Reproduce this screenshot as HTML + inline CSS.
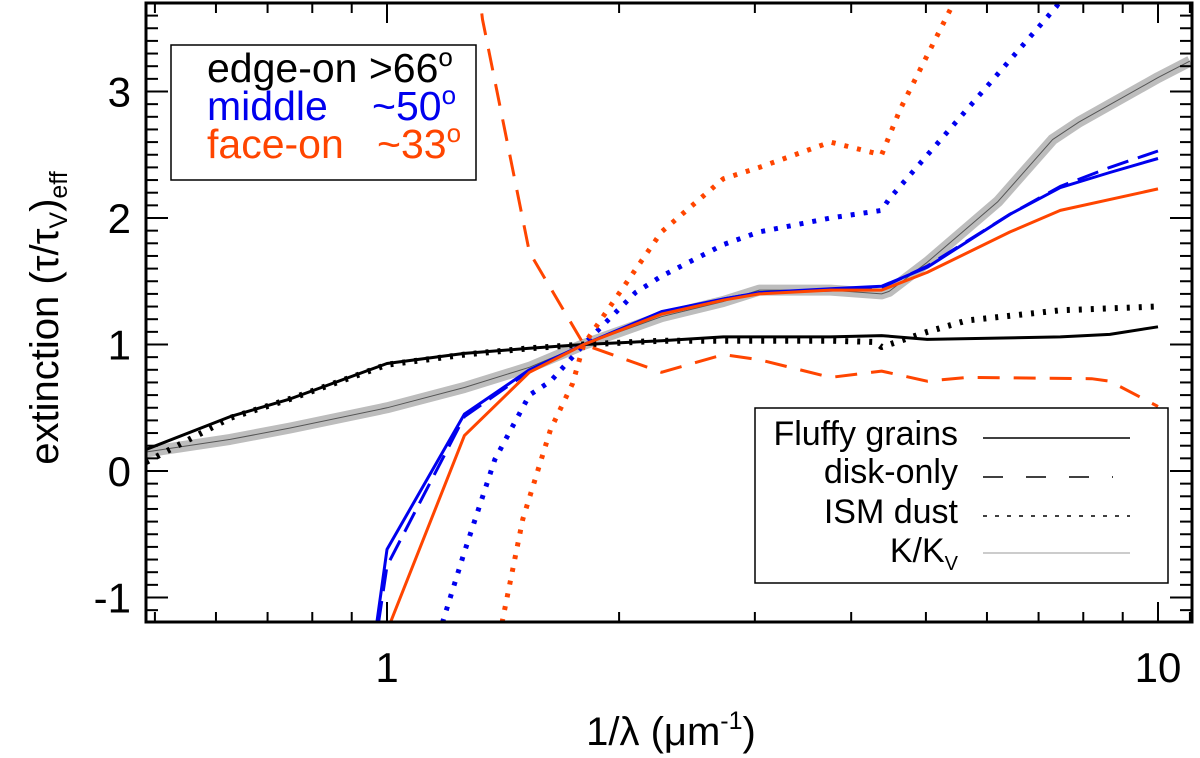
<!DOCTYPE html>
<html><head><meta charset="utf-8"><style>
body{margin:0;background:#fff;}
svg{display:block;font-family:"Liberation Sans",sans-serif;}
</style></head><body>
<svg id="chart" width="1200" height="758" viewBox="0 0 1200 758">
<g id="series"></g>
<g id="axes"></g>
<rect x="171" y="45" width="305" height="135" fill="#fff" stroke="#000" stroke-width="1.5"/>
<text x="207" y="82" font-size="41" fill="#000">edge-on &gt;66<tspan font-size="26" dy="-16">o</tspan></text>
<text x="207" y="120" font-size="41" fill="#0000ee">middle <tspan x="372">~50</tspan><tspan font-size="26" dy="-16">o</tspan></text>
<text x="207" y="158" font-size="41" fill="#ff4500">face-on <tspan x="377">~33</tspan><tspan font-size="26" dy="-16">o</tspan></text>
<rect x="755" y="408" width="413" height="175" fill="#fff" stroke="#000" stroke-width="1.5"/>
<text x="958" y="445" font-size="34" text-anchor="end">Fluffy grains</text>
<line x1="983" y1="438" x2="1130" y2="438" stroke="#000" stroke-width="1.5"/>
<text x="958" y="483" font-size="34" text-anchor="end">disk-only</text>
<line x1="983" y1="477" x2="1113" y2="477" stroke="#000" stroke-width="1.5" stroke-dasharray="20,23"/>
<text x="958" y="523" font-size="34" text-anchor="end">ISM dust</text>
<line x1="983" y1="516" x2="1130" y2="516" stroke="#000" stroke-width="1.5" stroke-dasharray="4,8"/>
<text x="958" y="562" font-size="34" text-anchor="end">K/K<tspan font-size="20" dy="8">V</tspan></text>
<line x1="983" y1="553" x2="1130" y2="553" stroke="#bbb" stroke-width="1.5"/>
<text x="671" y="745" font-size="40" text-anchor="middle">1/λ (μm<tspan font-size="25" dy="-16">-1</tspan><tspan dy="16">)</tspan></text>
<text transform="translate(58,318) rotate(-90)" font-size="40" text-anchor="middle">extinction (τ/τ<tspan font-size="25" dy="9">V</tspan><tspan dy="-9">)</tspan><tspan font-size="25" dy="9">eff</tspan></text>
</svg>
<script>
const xTicks=[1,10];
const xTickLabels=["1","10"];
const yTicks=[-1,0,1,2,3];
const yTickLabels=["-1","0","1","2","3"];
const blackSolidX=[0.487,0.626,0.749,1.0,1.26,1.53,1.8,2.27,2.73,3.76,4.38,5.02,7.47,8.66,10];
const blackSolidY=[0.17,0.43,0.57,0.85,0.93,0.97,1.0,1.03,1.06,1.06,1.07,1.04,1.06,1.08,1.14];
const blackDotX=[0.487,0.626,0.749,1.0,1.26,1.53,1.8,2.27,2.73,3.76,4.3,4.38,5.02,5.65,7.47,10];
const blackDotY=[0.07,0.42,0.57,0.84,0.92,0.97,1.0,1.03,1.03,1.03,1.02,0.98,1.1,1.19,1.27,1.3];
const grayX=[0.487,0.626,0.749,1.0,1.26,1.53,1.8,2.27,2.73,3.04,3.76,4.38,4.48,5.02,6.2,7.3,7.9,10,11];
const grayY=[0.15,0.25,0.34,0.5,0.66,0.82,1.0,1.22,1.34,1.43,1.43,1.4,1.42,1.65,2.13,2.62,2.76,3.11,3.24];
const blueSolidX=[0.97,1.0,1.26,1.53,1.8,2.27,2.73,3.04,3.76,4.38,5.02,6.43,7.47,8.66,10];
const blueSolidY=[-1.2,-0.62,0.45,0.8,1.0,1.26,1.36,1.41,1.44,1.46,1.61,2.03,2.24,2.36,2.47];
const blueDashX=[0.975,1.0,1.26,1.53,1.8,2.27,2.73,3.04,3.76,4.38,5.02,6.43,7.47,8.66,10];
const blueDashY=[-1.2,-0.75,0.43,0.79,1.0,1.25,1.36,1.41,1.43,1.45,1.62,2.03,2.25,2.4,2.53];
const orangeSolidX=[1.01,1.26,1.53,1.8,2.27,2.73,3.04,3.76,4.38,5.02,6.43,7.47,10];
const orangeSolidY=[-1.2,0.28,0.78,1.0,1.24,1.35,1.4,1.43,1.43,1.57,1.89,2.06,2.23];
const blueDotX=[1.18,1.26,1.38,1.53,1.63,1.8,2.1,2.27,2.73,3.04,3.76,4.38,4.48,7.38,8.66];
const blueDotY=[-1.2,-0.64,0.09,0.6,0.71,1.0,1.41,1.54,1.79,1.89,2.0,2.06,2.15,3.67,4.3];
const orangeDotX=[1.41,1.5,1.63,1.74,1.8,2.27,2.73,3.04,3.76,4.38,4.63,5.4,6.0];
const orangeDotY=[-1.2,-0.38,0.33,0.69,1.0,1.89,2.31,2.4,2.6,2.5,2.86,3.67,4.3];
const orangeDashX=[1.31,1.33,1.53,1.8,2.27,2.73,3.04,3.76,4.38,5.02,5.65,8.2,8.66,10];
const orangeDashY=[3.9,3.57,1.73,1.0,0.78,0.92,0.88,0.74,0.79,0.71,0.74,0.73,0.71,0.51];

const L=146,R=1192,T=3,B=622,X1=387,DEC=771,Y0=471,YU=126.5;
const NS="http://www.w3.org/2000/svg";
function xs(v){return X1+DEC*Math.log10(v);}
function ys(v){return Y0-YU*v;}
const sg=document.getElementById('series');
const clip=document.createElementNS(NS,'clipPath');clip.setAttribute('id','pc');
const cr=document.createElementNS(NS,'rect');
cr.setAttribute('x',L);cr.setAttribute('y',T);cr.setAttribute('width',R-L);cr.setAttribute('height',B-T);
clip.appendChild(cr);sg.appendChild(clip);
sg.setAttribute('clip-path','url(#pc)');
function line(xa,ya,color,w,dash,name){
  const p=document.createElementNS(NS,'polyline');
  p.setAttribute('points',xa.map((x,i)=>xs(x).toFixed(1)+','+ys(ya[i]).toFixed(1)).join(' '));
  p.setAttribute('fill','none');p.setAttribute('stroke',color);p.setAttribute('stroke-width',w);
  p.setAttribute('stroke-linejoin','round');
  if(dash)p.setAttribute('stroke-dasharray',dash);
  
  
  sg.appendChild(p);
}
line(grayX,grayY,'#bdbdbd',11,null,'kkv-band');
line(grayX,grayY,'#555',1,null,'kkv-line');
line(blackSolidX,blackSolidY,'#000',3,null,'edge-on-fluffy');
line(blackDotX,blackDotY,'#000',6,'3,9','edge-on-ism');
line(blueDotX,blueDotY,'#0000ee',5,'4,9','middle-ism');
line(orangeDotX,orangeDotY,'#ff4500',5,'4,9','face-on-ism');
line(orangeDashX,orangeDashY,'#ff4500',3,'22,14','face-on-disk-only');
line(blueDashX,blueDashY,'#0000ee',3,'22,10','middle-disk-only');
line(blueSolidX,blueSolidY,'#0000ee',3,null,'middle-fluffy');
line(orangeSolidX,orangeSolidY,'#ff4500',3,null,'face-on-fluffy');

const ag=document.getElementById('axes');
function ln(x1,y1,x2,y2,w,name){
  const l=document.createElementNS(NS,'line');
  l.setAttribute('x1',x1);l.setAttribute('y1',y1);l.setAttribute('x2',x2);l.setAttribute('y2',y2);
  l.setAttribute('stroke','#000');l.setAttribute('stroke-width',w);
  
  
  ag.appendChild(l);
}
function tx(x,y,s,anchor,name){
  const t=document.createElementNS(NS,'text');
  t.setAttribute('x',x);t.setAttribute('y',y);t.setAttribute('font-size','42');t.setAttribute('text-anchor',anchor);
  t.textContent=s;
  
  
  ag.appendChild(t);
}
const fr=document.createElementNS(NS,'rect');
fr.setAttribute('x',L);fr.setAttribute('y',T);fr.setAttribute('width',R-L);fr.setAttribute('height',B-T);
fr.setAttribute('fill','none');fr.setAttribute('stroke','#000');fr.setAttribute('stroke-width','3');


ag.appendChild(fr);
const minorX=[0.5,0.6,0.7,0.8,0.9,2,3,4,5,6,7,8,9,11];
minorX.forEach(v=>{const x=xs(v);if(x>L&&x<R){ln(x,B,x,B-10,2,'x-minor-tick');ln(x,T,x,T+10,2,'x-minor-tick');}});
xTicks.forEach((v,i)=>{const x=xs(v);ln(x,B,x,B-20,2,'x-major-tick');ln(x,T,x,T+20,2,'x-major-tick');tx(x,682,xTickLabels[i],'middle','x-tick-label');});
for(let k=-12;k<=37;k++){const y=ys(k/10);if(y>T&&y<B){const len=(k%10===0)?22:12;ln(L,y,L+len,y,2,'y-tick');ln(R,y,R-len,y,2,'y-tick');}}
yTicks.forEach((v,i)=>{tx(131,ys(v)+15,yTickLabels[i],'end','y-tick-label');});
</script>
</body></html>
